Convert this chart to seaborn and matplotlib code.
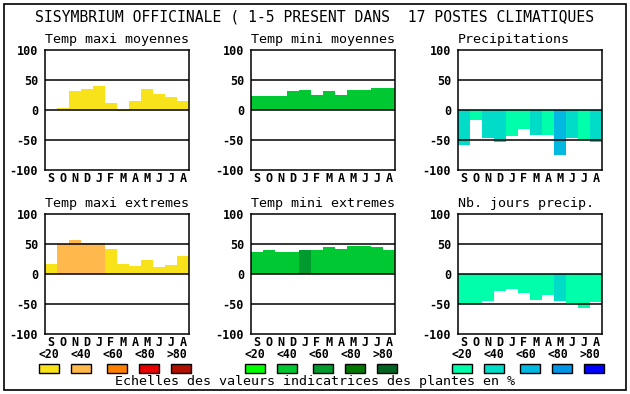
import matplotlib
matplotlib.use("Agg")
import matplotlib.pyplot as plt
import pandas as pd
import seaborn as sns
from matplotlib.patches import Rectangle

# donnees
mois = ["S", "O", "N", "D", "J", "F", "M", "A", "M", "J", "J", "A"]

tmax_moy = [0, 4, 32, 35, 40, 12, -2, 15, 35, 27, 22, 15]
tmax_moy_cl = [0, 0, 0, 0, 0, 0, 0, 0, 0, 0, 0, 0]
tmin_moy = [23, 23, 23, 32, 34, 25, 32, 25, 33, 33, 37, 37]
tmin_moy_cl = [1, 1, 1, 1, 1, 1, 1, 1, 1, 1, 1, 1]
precip = [-58, -17, -47, -53, -43, -32, -42, -42, -75, -47, -50, -53]
precip_cl = [1, 0, 1, 1, 0, 0, 1, 0, 2, 1, 0, 1]
tmax_ext = [17, 50, 56, 52, 52, 42, 17, 13, 23, 12, 15, 30]
tmax_ext_cl = [0, 1, 1, 1, 1, 0, 0, 0, 0, 0, 0, 0]
tmin_ext = [37, 40, 37, 37, 40, 40, 45, 42, 47, 47, 45, 40]
tmin_ext_cl = [1, 1, 1, 1, 2, 1, 1, 1, 1, 1, 1, 1]
jours = [-50, -50, -45, -28, -25, -32, -43, -35, -45, -48, -57, -46]
jours_cl = [0, 0, 0, 0, 0, 0, 0, 0, 1, 0, 0, 0]

classes = ["<20", "<40", "<60", "<80", ">80"]
pal_orange = ["#F8E21A", "#FFB84C", "#FF8000", "#E80000", "#B01000"]
pal_vert = ["#00FF00", "#00C832", "#009A2E", "#007800", "#006420"]
pal_bleu = ["#00FFAA", "#00DCC8", "#00B8E0", "#0096E8", "#0000FF"]

titre = "SISYMBRIUM OFFICINALE ( 1-5 PRESENT DANS  17 POSTES CLIMATIQUES"

sns.set_style("white")
plt.rcParams['font.family'] = ['DejaVu Sans Mono']
plt.rcParams['text.color'] = 'black'
plt.rcParams['xtick.color'] = 'black'
plt.rcParams['ytick.color'] = 'black'

W, H = 630, 394
fig = plt.figure(figsize=(W / 100, H / 100), dpi=100)


def px_axes(x0, y0, x1, y1):
    return fig.add_axes([x0 / W, 1 - y1 / H, (x1 - x0) / W, (y1 - y0) / H])


def panneau(ax, vals, cl, pal, titre_p):
    df = pd.DataFrame({"pos": range(len(vals)), "val": vals, "cl": cl})
    sns.barplot(data=df, x="pos", y="val", hue="cl",
                palette={i: c for i, c in enumerate(pal)},
                dodge=False, width=1, saturation=1, legend=False,
                linewidth=0, ax=ax)
    for v in (-50, 0, 50):
        ax.axhline(v, color='black', lw=1.1, zorder=5)
    ax.set_ylim(-100, 100)
    ax.set_xlim(-0.5, 11.5)
    ax.set_yticks([-100, -50, 0, 50, 100])
    ax.set_yticklabels(["-100", "-50", "0", "50", "100"], fontweight='bold', fontsize=8.5)
    ax.set_xticks(range(12))
    ax.set_xticklabels(mois, fontweight='bold', fontsize=8.5)
    ax.tick_params(length=0, pad=1.5)
    ax.tick_params(axis='y', pad=5)
    ax.set_xlabel('')
    ax.set_ylabel('')
    for s in ax.spines.values():
        s.set_color('black')
        s.set_linewidth(1.1)
        s.set_visible(True)
    ax.text(0, 1.03, titre_p, transform=ax.transAxes, fontsize=9.6,
            ha='left', va='bottom', color='black')


lefts = [45, 251, 458]
rows = [(50, 170), (214, 334)]
panels = [
    [(tmax_moy, tmax_moy_cl, pal_orange, "Temp maxi moyennes"),
     (tmin_moy, tmin_moy_cl, pal_vert, "Temp mini moyennes"),
     (precip, precip_cl, pal_bleu, "Precipitations")],
    [(tmax_ext, tmax_ext_cl, pal_orange, "Temp maxi extremes"),
     (tmin_ext, tmin_ext_cl, pal_vert, "Temp mini extremes"),
     (jours, jours_cl, pal_bleu, "Nb. jours precip.")],
]
for r, (y0, y1) in enumerate(rows):
    for c, x0 in enumerate(lefts):
        ax = px_axes(x0, y0, x0 + 144, y1)
        panneau(ax, *panels[r][c])

# echelles de couleur
box_dx = [-6, 26, 62, 94, 126]
lab_dx = [-6, 26, 58, 90, 122]
for x0, pal in zip(lefts, [pal_orange, pal_vert, pal_bleu]):
    for k in range(5):
        bx = x0 + box_dx[k]
        fig.add_artist(Rectangle((bx / W, 1 - 373 / H), 20 / W, 9 / H,
                                 transform=fig.transFigure, facecolor=pal[k],
                                 edgecolor='black', lw=1))
        fig.text((x0 + lab_dx[k] + 10) / W, 1 - 354.5 / H, classes[k],
                 ha='center', va='center', fontsize=8.3, fontweight='bold')

fig.text(315 / W, 1 - 382 / H, "Echelles des valeurs indicatrices des plantes en %",
         ha='center', va='center', fontsize=9.6)
fig.text(315 / W, 1 - 17.5 / H, titre, ha='center', va='center', fontsize=10.6)

fig.add_artist(Rectangle((4 / W, 1 - 390 / H), 622 / W, 386 / H,
                         transform=fig.transFigure, fill=False,
                         edgecolor='black', lw=1.2))

plt.savefig("out.png", dpi=100)
